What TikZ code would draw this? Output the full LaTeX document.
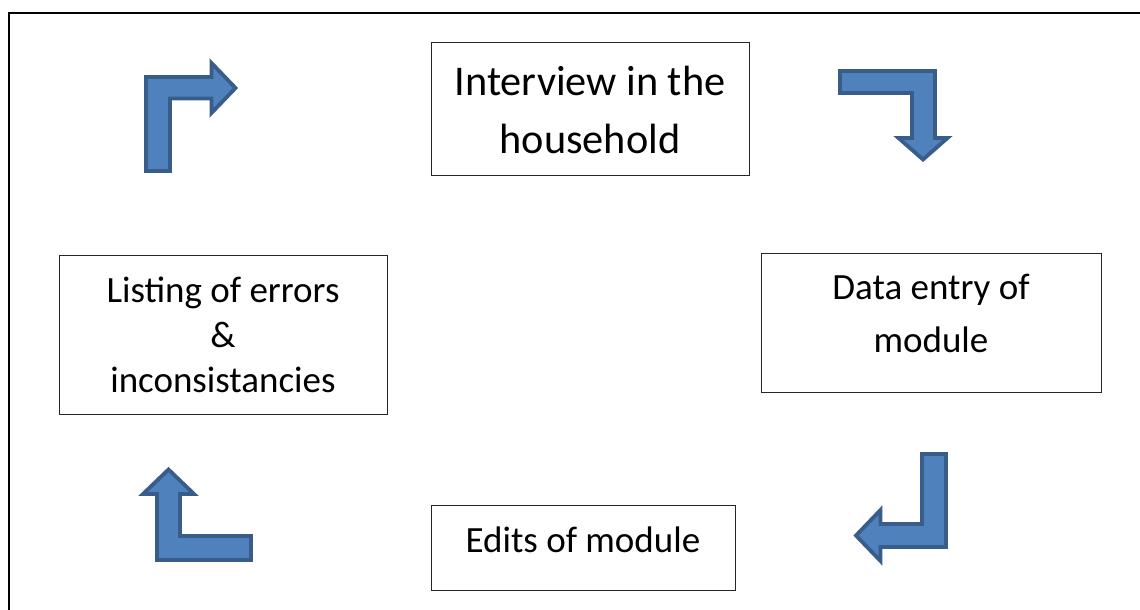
\documentclass[tikz,border=0pt]{standalone}
\usepackage{fontspec}
\setmainfont{Carlito}
\definecolor{arrowfill}{HTML}{4F81BD}
\definecolor{arrowline}{HTML}{385D8A}
\begin{document}
\begin{tikzpicture}[x=1pt,y=-1pt,
  box/.style={draw=black!85,line width=1pt,inner sep=0pt},
  big/.style={font=\fontsize{42.3}{50}\selectfont,anchor=base,inner sep=0pt},
  small/.style={font=\fontsize{37}{45}\selectfont,anchor=base,inner sep=0pt},
  bentarrow/.style={fill=arrowfill,draw=arrowline,line width=3.8pt,line join=miter}]
\useasboundingbox (0,0) rectangle (1140,610);
\clip (0,0) rectangle (1140,610);
\fill[white] (0,0) rectangle (1140,610);
% outer frame
\draw[line width=2pt] (8.5,630) -- (8.5,13.5) -- (1160,13.5);
% boxes
\node[box,minimum width=318pt,minimum height=132pt] (interview) at (590,109) {};
\node[box,minimum width=340pt,minimum height=139pt] (entry) at (931,322.5) {};
\node[box,minimum width=328pt,minimum height=159pt] (listing) at (223,334.5) {};
\node[box,minimum width=304pt,minimum height=85pt] (edits) at (583,547.5) {};
% texts
\node[big] (t1a) at (590,95.6) {Interview in the};
\node[big] (t1b) at (590,153.6) {household};
\node[small] (t2a) at (931,299) {Data entry of};
\node[small] (t2b) at (931,352) {module};
\node[small] (t3a) at (223,302) {Listing of errors};
\node[small] (t3b) at (223,347) {\&};
\node[small] (t3c) at (223,392) {inconsistancies};
\node[small] (t4a) at (583,552) {Edits of module};
% bent arrows
\draw[bentarrow] (146,171) -- (146,77) -- (211.5,77) -- (211.5,63) -- (235.5,88) -- (211.5,113) -- (211.5,98.5) -- (170,98.5) -- (170,171) -- cycle;
\draw[bentarrow] (840,71) -- (935,71) -- (935,138) -- (947.5,138) -- (923,159.5) -- (898.5,138) -- (912,138) -- (912,93) -- (840,93) -- cycle;
\draw[bentarrow] (922,454) -- (946,454) -- (946,547) -- (880.5,547) -- (880.5,561) -- (856,535.5) -- (880.5,510) -- (880.5,524) -- (922,524) -- cycle;
\draw[bentarrow] (157,560) -- (157,494) -- (143,494) -- (168.5,469.5) -- (194,494) -- (180,494) -- (180,536) -- (251,536) -- (251,560) -- cycle;
\end{tikzpicture}
\end{document}
